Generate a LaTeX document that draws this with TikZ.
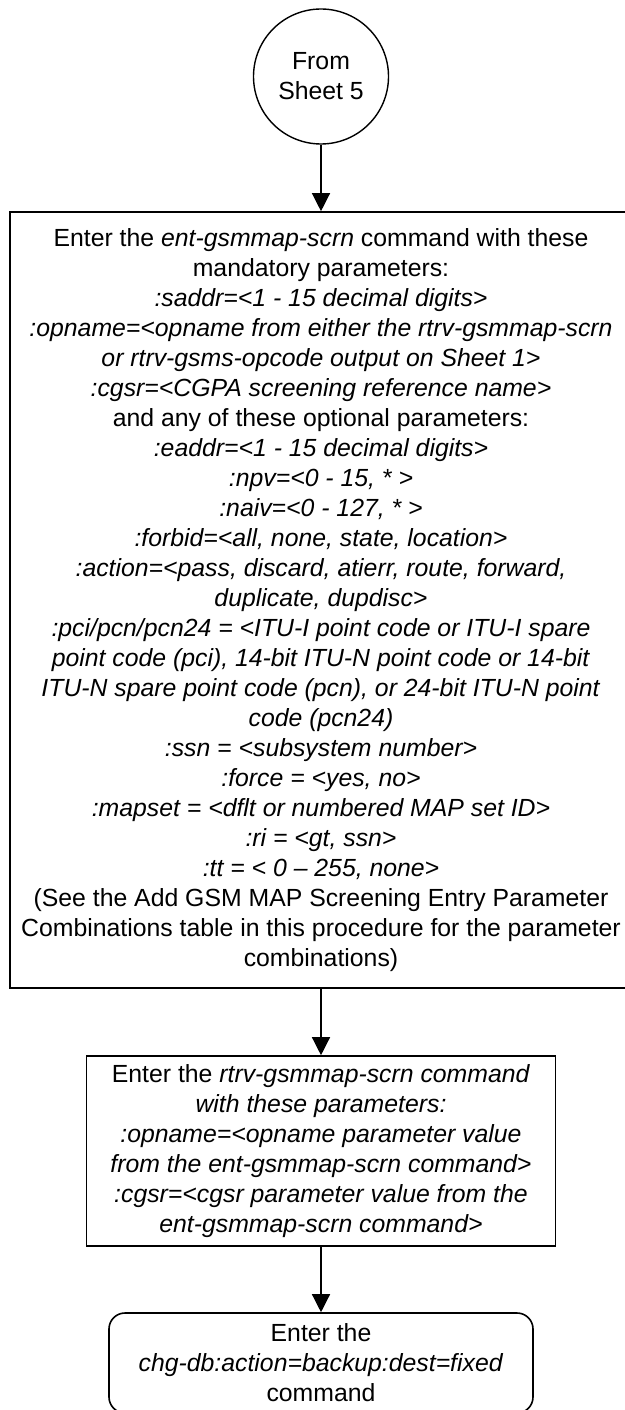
\documentclass[tikz,border=0pt]{standalone}
\usepackage{fontspec}
\setmainfont{Liberation Sans}
\usepackage{tikz}
\usetikzlibrary{arrows.meta,positioning,shapes.geometric}
\tikzset{
  txt/.style={font=\fontsize{24.8}{30}\selectfont,align=center,inner sep=0pt},
  box/.style={txt,draw=black,line width=1.6pt,fill=white},
  boxr/.style={box,rounded corners=16pt},
  conn/.style={txt,draw=black,line width=1.4pt,circle,minimum size=135pt},
  arr/.style={-{Triangle[length=18pt,width=18pt]},line width=1.3pt,color=black},
}
\begin{document}
\begin{tikzpicture}[x=1pt,y=1pt]
\useasboundingbox (0,0) rectangle (624,-1410);
\node[conn] (from5) at (321,-76.5) {From\\Sheet 5};
\node[box,minimum width=622pt,minimum height=776pt] (entscrn) at (321,-600) {Enter the \textit{ent-gsmmap-scrn} command with these\\
 mandatory parameters:\\
 \textit{:saddr=<1 - 15 decimal digits>}\\
 \textit{:opname=<opname from either the rtrv-gsmmap-scrn}\\
 \textit{or rtrv-gsms-opcode output on Sheet 1>}\\
 \textit{:cgsr=<CGPA screening reference name>}\\
 and any of these optional parameters:\\
 \textit{:eaddr=<1 - 15 decimal digits>}\\
 \textit{:npv=<0 - 15, * >}\\
 \textit{:naiv=<0 - 127, * >}\\
 \textit{:forbid=<all, none, state, location>}\\
 \textit{:action=<pass, discard, atierr, route, forward,}\\
 \textit{duplicate, dupdisc>}\\
 \textit{:pci/pcn/pcn24 = <ITU-I point code or ITU-I spare}\\
 \textit{point code (pci), 14-bit ITU-N point code or 14-bit}\\
 \textit{ITU-N spare point code (pcn), or 24-bit ITU-N point}\\
 \textit{code (pcn24)}\\
 \textit{:ssn = <subsystem number>}\\
 \textit{:force = <yes, no>}\\
 \textit{:mapset = <dflt or numbered MAP set ID>}\\
 \textit{:ri = <gt, ssn>}\\
 \textit{:tt = < 0 – 255, none>}\\
 (See the Add GSM MAP Screening Entry Parameter\\
 Combinations table in this procedure for the parameter\\
 combinations)};
\node[box,minimum width=469pt,minimum height=190pt] (rtrvscrn) at (321,-1151) {Enter the \textit{rtrv-gsmmap-scrn command}\\
 \textit{with these parameters:}\\
 \textit{:opname=<opname parameter value}\\
 \textit{from the ent-gsmmap-scrn command>}\\
 \textit{:cgsr=<cgsr parameter value from the}\\
 \textit{ent-gsmmap-scrn command>}};
\node[boxr,minimum width=424pt,minimum height=100pt] (chgdb) at (321,-1363) {Enter the\\ \textit{chg-db:action=backup:dest=fixed}\\ command};
\draw[arr] (from5) -- (entscrn);
\draw[arr] (entscrn) -- (rtrvscrn);
\draw[arr] (rtrvscrn) -- (chgdb);
\end{tikzpicture}
\end{document}
